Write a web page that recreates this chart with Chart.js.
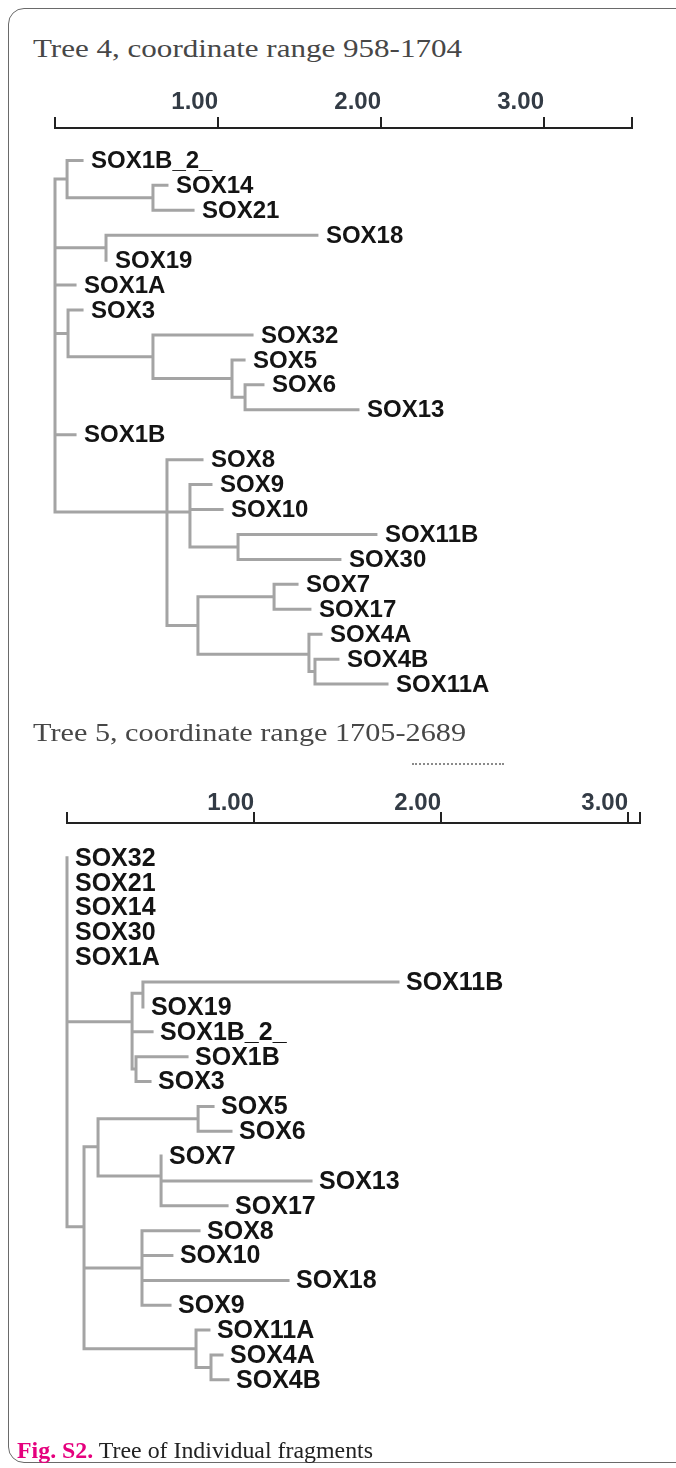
<!DOCTYPE html>
<html>
<head>
<meta charset="utf-8">
<script src="https://cdn.jsdelivr.net/npm/chart.js@4.4.1/dist/chart.umd.min.js"></script>
<style>
html,body{margin:0;padding:0;background:#fff;}
body{width:676px;height:1468px;position:relative;overflow:hidden;}
.frame{position:absolute;left:8px;top:8px;width:760px;height:1455px;border:1.5px solid #6a6a6a;border-radius:16px;box-sizing:border-box;}
.title{position:absolute;left:33px;font-family:'Liberation Serif','Times New Roman',serif;font-size:26px;color:#474747;white-space:nowrap;transform-origin:0 0;line-height:1;}
.caption{position:absolute;left:17px;top:1438px;font-family:'Liberation Serif','Times New Roman',serif;font-size:24px;color:#222;white-space:nowrap;transform-origin:0 0;line-height:1;}
.caption b{color:#e5007d;}
.wrap{position:absolute;left:0;}
.remnant{position:absolute;left:412px;top:763px;width:92px;border-top:2px dotted #8a8a8a;}
</style>
</head>
<body>
<div class="frame"></div>
<div class="title" id="t4" style="top:36px">Tree 4, coordinate range 958-1704</div>
<div class="wrap" style="top:0"><canvas id="c4" width="676" height="720"></canvas></div>
<div class="title" id="t5" style="top:720px">Tree 5, coordinate range 1705-2689</div>
<div class="remnant"></div>
<div class="wrap" style="top:700px"><canvas id="c5" width="676" height="768"></canvas></div>
<div class="caption" id="cap"><b>Fig. S2.</b> Tree of Individual fragments</div>
<script>
// ---------------- Tree 4 (coordinate range 958-1704) ----------------
const tree4Leaves = ['SOX1B_2_','SOX14','SOX21','SOX18','SOX19','SOX1A','SOX3','SOX32','SOX5','SOX6','SOX13','SOX1B','SOX8','SOX9','SOX10','SOX11B','SOX30','SOX7','SOX17','SOX4A','SOX4B','SOX11A'];
const tree4LeafDepths = [0.166,0.687,0.847,1.607,0.313,0.123,0.166,1.209,1.160,1.276,1.859,0.123,0.902,0.957,1.025,1.969,1.748,1.485,1.564,1.632,1.736,2.037];
const tree4NodeNames = ['root','n1','n2','n3','n4','n5','n6','n7','n8','n9','n10','n11','n12','n13','n14'];
const tree4NodeDepths = [0,0.074,0.601,0.313,0.080,0.601,1.086,1.166,0.687,0.828,1.123,0.877,1.344,1.558,1.595];
const tree4NodeRows = [7.4,0.75,1.5,3.5,6.94,7.875,8.75,9.5,14.1,14.1,15.5,18.65,17.5,19.8,20.5];
const tree4NodeChildren = [
  ['n1','n3','SOX1A','n4','SOX1B','n8'],
  ['SOX1B_2_','n2'],
  ['SOX14','SOX21'],
  ['SOX18','SOX19'],
  ['SOX3','n5'],
  ['SOX32','n6'],
  ['SOX5','n7'],
  ['SOX6','SOX13'],
  ['SOX8','n9','n11'],
  ['SOX9','SOX10','n10'],
  ['SOX11B','SOX30'],
  ['n12','n13'],
  ['SOX7','SOX17'],
  ['SOX4A','n14'],
  ['SOX4B','SOX11A']
];
const tree4AxisTicks = [0,1,2,3,3.54];
const tree4TickLabels = ['','1.00','2.00','3.00',''];

// ---------------- Tree 5 (coordinate range 1705-2689) ----------------
const tree5Leaves = ['SOX32','SOX21','SOX14','SOX30','SOX1A','SOX11B','SOX19','SOX1B_2_','SOX1B','SOX3','SOX5','SOX6','SOX7','SOX13','SOX17','SOX8','SOX10','SOX18','SOX9','SOX11A','SOX4A','SOX4B'];
const tree5LeafDepths = [0,0,0,0,0,1.770,0.406,0.455,0.642,0.444,0.781,0.877,0.503,1.305,0.856,0.706,0.561,1.182,0.551,0.759,0.829,0.861];
const tree5NodeNames = ['root','P','Q','R','S','T','W','X','U','V','Y'];
const tree5NodeDepths = [0,0.348,0.406,0.369,0.091,0.166,0.701,0.503,0.401,0.690,0.770];
const tree5NodeRows = [7,6.6,5.45,8.5,14.84,11.62,10.5,12.8,16.5,19.75,20.5];
const tree5NodeChildren = [
  ['SOX32','SOX21','SOX14','SOX30','SOX1A','P','S'],
  ['Q','SOX1B_2_','R'],
  ['SOX11B','SOX19'],
  ['SOX1B','SOX3'],
  ['T','U','V'],
  ['W','X'],
  ['SOX5','SOX6'],
  ['SOX7','SOX13','SOX17'],
  ['SOX8','SOX10','SOX18','SOX9'],
  ['SOX11A','Y'],
  ['SOX4A','SOX4B']
];
const tree5AxisTicks = [0,1,2,3,3.064];
const tree5TickLabels = ['','1.00','2.00','3.00',''];

// ---------------- build branch paths (value space) ----------------
function buildTree(leaves, leafDepths, nodeNames, nodeDepths, nodeRows, nodeChildren) {
  const pos = {};
  leaves.forEach((n,i)=>{ pos[n] = {x:leafDepths[i], y:i}; });
  nodeNames.forEach((n,i)=>{ pos[n] = {x:nodeDepths[i], y:nodeRows[i]}; });
  const pts = [];
  nodeNames.forEach((n,i)=>{
    const p = pos[n];
    const kids = nodeChildren[i].map(k=>pos[k]);
    const first = kids[0], last = kids[kids.length-1];
    pts.push({x:first.x,y:first.y},{x:p.x,y:first.y},{x:p.x,y:last.y},{x:last.x,y:last.y},{x:last.x,y:null});
    kids.slice(1,-1).forEach(k=>{ pts.push({x:p.x,y:k.y},{x:k.x,y:k.y},{x:k.x,y:null}); });
  });
  return pts;
}

const leafLabelPlugin = {
  id:'leafLabels',
  afterDatasetsDraw(chart, args, opts) {
    const ctx = chart.ctx, xs = chart.scales.x, ys = chart.scales.y;
    ctx.save();
    ctx.font = 'bold ' + opts.size + 'px "Liberation Sans", Arial, sans-serif';
    ctx.fillStyle = '#141414';
    ctx.textBaseline = 'middle';
    ctx.textAlign = 'left';
    opts.names.forEach((n,i)=>{
      ctx.fillText(n, xs.getPixelForValue(opts.depths[i]) + opts.gap, ys.getPixelForValue(i) + 1);
    });
    ctx.restore();
  }
};

function makeChart(id, pts, xMax, tickVals, tickLabels, yMin, yMax, padding, names, depths, size, gap, tickPad) {
  return new Chart(document.getElementById(id), {
    type:'scatter',
    data:{datasets:[{data:pts, showLine:true, borderColor:'#a4a4a4', borderWidth:3, pointRadius:0, pointHoverRadius:0,
      borderCapStyle:'square', borderJoinStyle:'miter', spanGaps:false, clip:false, tension:0}]},
    options:{
      responsive:false, animation:false, events:[],
      layout:{padding:padding},
      plugins:{legend:{display:false}, tooltip:{enabled:false},
        leafLabels:{names:names, depths:depths, size:size, gap:gap}},
      scales:{
        x:{type:'linear', position:'top', min:0, max:xMax,
          afterBuildTicks:s=>{ s.ticks = tickVals.map(v=>({value:v})); },
          afterFit:s=>{ s.height = 50; },
          grid:{drawOnChartArea:false, drawTicks:true, tickLength:11, color:'#222', lineWidth:2},
          border:{display:true, color:'#222', width:2},
          ticks:{align:'end', padding:tickPad, maxRotation:0, minRotation:0, autoSkip:false, color:'#333b45',
            font:{family:'"Liberation Sans", Arial, sans-serif', weight:'bold', size:24},
            callback:(v,i)=>tickLabels[i]}
        },
        y:{type:'linear', display:false, reverse:true, min:yMin, max:yMax}
      }
    },
    plugins:[leafLabelPlugin]
  });
}

makeChart('c4', buildTree(tree4Leaves, tree4LeafDepths, tree4NodeNames, tree4NodeDepths, tree4NodeRows, tree4NodeChildren),
  3.54, tree4AxisTicks, tree4TickLabels, -1.3, 22.0, {left:55, right:44, top:78, bottom:11},
  tree4Leaves, tree4LeafDepths, 24, 9, 0);
makeChart('c5', buildTree(tree5Leaves, tree5LeafDepths, tree5NodeNames, tree5NodeDepths, tree5NodeRows, tree5NodeChildren),
  3.064, tree5AxisTicks, tree5TickLabels, -1.4, 22.6, {left:67, right:36, top:73, bottom:48.4},
  tree5Leaves, tree5LeafDepths, 25, 8, -6);

function fitWidth(id, target) {
  const el = document.getElementById(id);
  const w = el.getBoundingClientRect().width;
  el.style.transform = 'scaleX(' + (target / w) + ')';
}
fitWidth('t4', 429);
fitWidth('t5', 433);
fitWidth('cap', 356);
</script>
</body>
</html>
